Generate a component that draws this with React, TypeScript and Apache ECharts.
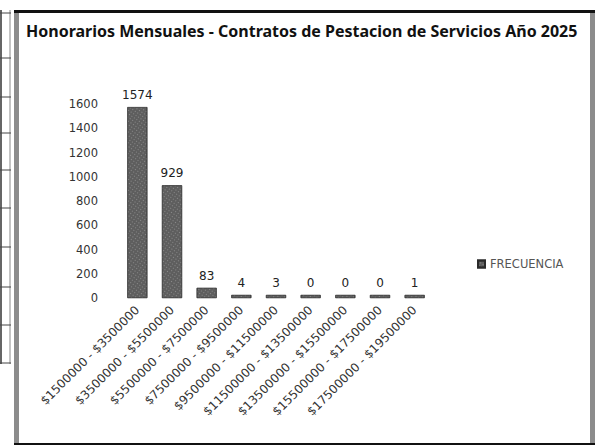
import React, { useEffect, useRef } from "react";
import * as echarts from "echarts";

const title = "Honorarios Mensuales - Contratos de Pestacion de Servicios Año 2025";
const seriesName = "FRECUENCIA";
const categories = [
  "$1500000 - $3500000",
  "$3500000 - $5500000",
  "$5500000 - $7500000",
  "$7500000 - $9500000",
  "$9500000 - $11500000",
  "$11500000 - $13500000",
  "$13500000 - $15500000",
  "$15500000 - $17500000",
  "$17500000 - $19500000",
];
const frequencies = [1574, 929, 83, 4, 3, 0, 0, 0, 1];
const yTicks = { min: 0, max: 1600, interval: 200 };
const tableRuleYs = [13, 58, 97, 133, 170, 208, 247, 287, 325, 363];

export default function App() {
  const ref = useRef<HTMLDivElement>(null);
  useEffect(() => {
    if (!ref.current) return;
    const chart = echarts.init(ref.current, null, { renderer: "svg" });
    const frame: any[] = [
      { type: "rect", shape: { x: 14, y: 10, width: 5, height: 435 }, style: { fill: "#8c8c8c" } },
      { type: "rect", shape: { x: 590, y: 10, width: 5, height: 435 }, style: { fill: "#8c8c8c" } },
      { type: "rect", shape: { x: 14, y: 10, width: 581, height: 3 }, style: { fill: "#111" } },
      { type: "rect", shape: { x: 14, y: 443, width: 581, height: 2 }, style: { fill: "#111" } },
      { type: "line", shape: { x1: 1, y1: 10, x2: 1, y2: 364 }, style: { stroke: "#333", lineWidth: 1.5 } },
      { type: "line", shape: { x1: 10, y1: 10, x2: 10, y2: 364 }, style: { stroke: "#888", lineWidth: 1 } },
      ...tableRuleYs.map((y) => ({
        type: "line",
        shape: { x1: 0, y1: y, x2: 11, y2: y },
        style: { stroke: "#444", lineWidth: 1 },
      })),
    ];
    chart.setOption({
      animation: false,
      backgroundColor: "#fff",
      title: {
        text: title,
        left: 21,
        top: 18,
        textStyle: { fontFamily: "Noto Sans", fontWeight: "bold", fontSize: 16, color: "#111" },
      },
      legend: {
        data: [seriesName],
        left: 472,
        top: 253,
        orient: "vertical",
        icon: "rect",
        itemWidth: 7,
        itemHeight: 7,
        itemGap: 4,
        textStyle: { fontFamily: "DejaVu Sans", fontSize: 11.5, color: "#555" },
      },
      grid: { left: 120, right: 176, top: 104, bottom: 149 },
      xAxis: {
        type: "category",
        data: categories,
        axisLine: { show: false },
        axisTick: { show: false },
        axisLabel: {
          interval: 0,
          rotate: 45,
          margin: 10,
          fontFamily: "DejaVu Sans",
          fontSize: 12,
          color: "#333",
        },
      },
      yAxis: {
        type: "value",
        min: yTicks.min,
        max: yTicks.max,
        interval: yTicks.interval,
        splitLine: { show: false },
        axisLine: { show: false },
        axisTick: { show: false },
        axisLabel: {
          margin: 22,
          fontFamily: "DejaVu Sans",
          fontSize: 11.5,
          color: "#333",
          formatter: (v: number) => String(v),
        },
      },
      series: [
        {
          name: seriesName,
          type: "bar",
          data: frequencies,
          barWidth: 20,
          barMinHeight: 3,
          itemStyle: {
            color: "#5e5e5e",
            borderColor: "#2a2a2a",
            borderWidth: 0.5,
            decal: {
              symbol: "rect",
              symbolSize: 0.8,
              color: "rgba(255,255,255,0.35)",
              dashArrayX: [1, 2],
              dashArrayY: [1, 2],
              rotation: 0.6,
            },
          },
          label: {
            show: true,
            position: "top",
            distance: 6,
            fontFamily: "DejaVu Sans",
            fontSize: 12,
            color: "#222",
          },
        },
      ],
      graphic: frame,
    });
    return () => chart.dispose();
  }, []);
  return (
    <div
      ref={ref}
      style={{ position: "fixed", left: 0, top: 0, width: 608, height: 447 }}
    />
  );
}
